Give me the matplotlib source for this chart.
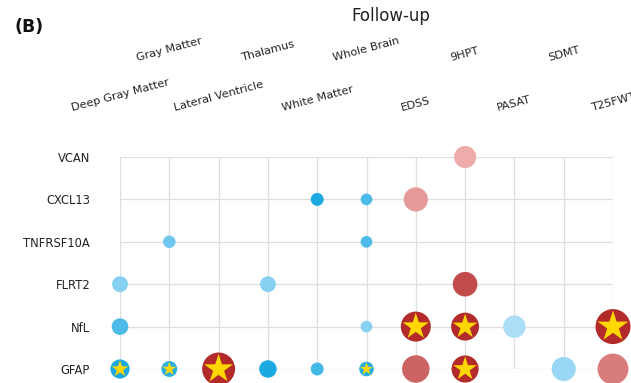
import matplotlib
import matplotlib.pyplot as plt
import numpy as np
from matplotlib.colors import LinearSegmentedColormap, Normalize

matplotlib.use("Agg")

# --------------------------------------------------
# Data
# --------------------------------------------------
proteins = ["VCAN", "CXCL13", "TNFRSF10A", "FLRT2", "NfL", "GFAP"]
outcomes = ["Deep Gray Matter", "Gray Matter", "Lateral Ventricle", "Thalamus",
            "White Matter", "Whole Brain", "EDSS", "9HPT", "PASAT", "SDMT", "T25FWT"]

# one entry per dot: protein, outcome, effect (colour), -log10 p (size), significant (star)
pt_protein = ["VCAN", "CXCL13", "CXCL13", "CXCL13", "TNFRSF10A", "TNFRSF10A",
              "FLRT2", "FLRT2", "FLRT2", "NfL", "NfL", "NfL", "NfL", "NfL", "NfL",
              "GFAP", "GFAP", "GFAP", "GFAP", "GFAP", "GFAP", "GFAP", "GFAP", "GFAP", "GFAP"]
pt_outcome = ["9HPT", "White Matter", "Whole Brain", "EDSS", "Gray Matter", "Whole Brain",
              "Deep Gray Matter", "Thalamus", "9HPT",
              "Deep Gray Matter", "Whole Brain", "EDSS", "9HPT", "PASAT", "T25FWT",
              "Deep Gray Matter", "Gray Matter", "Lateral Ventricle", "Thalamus",
              "White Matter", "Whole Brain", "EDSS", "9HPT", "SDMT", "T25FWT"]
pt_effect = [0.08, -1.0, -0.69, 0.21, -0.5, -0.69,
             -0.35, -0.35, 0.76,
             -0.69, -0.33, 1.0, 1.0, -0.11, 1.0,
             -1.0, -0.9, 1.0, -1.0, -0.75, -0.9, 0.58, 1.0, -0.23, 0.41]
pt_logp = [4.3, 2.1, 1.8, 4.8, 2.0, 1.8,
           2.8, 2.8, 4.9,
           3.0, 1.8, 6.2, 5.7, 4.4, 7.4,
           3.6, 2.8, 6.9, 3.2, 2.1, 2.5, 5.6, 5.5, 4.8, 6.4]
pt_sig = [False, False, False, False, False, False,
          False, False, False,
          False, False, True, True, False, True,
          True, True, True, False, False, True, False, True, False, False]

# --------------------------------------------------
# Scales
# --------------------------------------------------
cmap = LinearSegmentedColormap.from_list(
    "blue_red",
    [(0.0, "#1aa9e1"), (0.5, "#c0e5fa"), (0.5, "#f4b6b6"), (1.0, "#b22a2a")])
norm = Normalize(vmin=-1, vmax=1)


def dot_area(logp):
    # marker diameter (pt) grows linearly with -log10 p
    return (3 + 3.0 * np.asarray(logp)) ** 2


x = np.array([outcomes.index(o) for o in pt_outcome])
y = np.array([proteins.index(p) for p in pt_protein])
sig = np.array(pt_sig)
areas = dot_area(pt_logp)

# --------------------------------------------------
# Figure
# --------------------------------------------------
fig = plt.figure(figsize=(6.31, 3.83), dpi=100)
ax = fig.add_axes([120 / 631, 14 / 383, 493 / 631, 212 / 383])

ax.scatter(x, y, s=areas, c=pt_effect, cmap=cmap, norm=norm,
           edgecolors="none", zorder=3, clip_on=False)
ax.scatter(x[sig], y[sig], s=areas[sig] * 0.85, marker="*", color="#ffd700",
           edgecolors="none", zorder=4, clip_on=False)

ax.set_xlim(0, len(outcomes) - 1)
ax.set_ylim(len(proteins) - 1, 0)
ax.set_xticks(range(len(outcomes)))
ax.set_yticks(range(len(proteins)))
ax.set_xticklabels([])
ax.set_yticklabels(proteins, fontsize=8.3, color="#222222")
ax.tick_params(axis="both", length=0)
ax.tick_params(axis="y", pad=21.5)
ax.grid(True, color="#dedede", linewidth=0.9)
ax.set_axisbelow(True)
for spine in ax.spines.values():
    spine.set_visible(False)

# staggered column labels above the grid
for i, name in enumerate(outcomes):
    offset = 31.5 if i % 2 == 0 else 67.5
    ax.annotate(name, xy=(i, 1), xycoords=("data", "axes fraction"),
                xytext=(0, offset), textcoords="offset points",
                ha="center", va="bottom", rotation=15, fontsize=8.1,
                color="#222222", annotation_clip=False)

fig.text(391 / 631, 1 - 21 / 383, "Follow-up", ha="center", va="baseline",
         fontsize=12, color="#222222")
fig.text(14 / 631, 1 - 31.5 / 383, "(B)", ha="left", va="baseline",
         fontsize=12.5, fontweight="bold", color="#111111")

fig.savefig("out.png", dpi=100)
plt.close(fig)
